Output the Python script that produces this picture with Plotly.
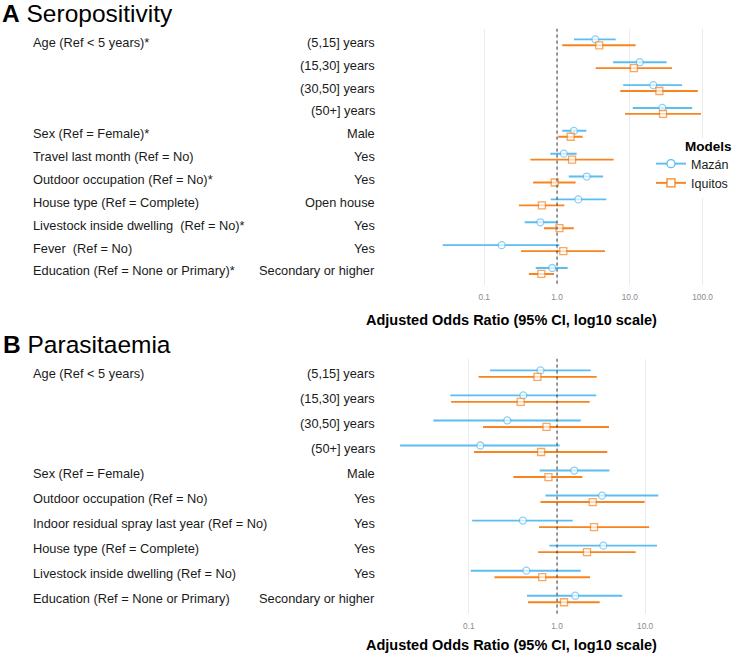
import plotly.graph_objects as go

W, H = 735, 655

# ---------------- DATA ----------------
models = ["Mazán", "Iquitos"]
legend_title = "Models"

sero_left = ["Age (Ref < 5 years)*", "", "", "", "Sex (Ref = Female)*",
             "Travel last month (Ref = No)", "Outdoor occupation (Ref = No)*",
             "House type (Ref = Complete)", "Livestock inside dwelling \u00a0(Ref = No)*",
             "Fever \u00a0(Ref = No)", "Education (Ref = None or Primary)*"]
sero_right = ["(5,15] years", "(15,30] years", "(30,50] years", "(50+] years", "Male",
              "Yes", "Yes", "Open house", "Yes", "Yes", "Secondary or higher"]
sero_mazan_or = [3.36, 13.7, 21.0, 28.0, 1.71, 1.24, 2.56, 1.96, 0.59, 0.174, 0.86]
sero_mazan_lo = [1.71, 5.9, 8.1, 11.0, 1.18, 0.81, 1.45, 0.82, 0.36, 0.027, 0.51]
sero_mazan_hi = [6.4, 32.0, 52.0, 72.0, 2.53, 1.86, 4.3, 4.76, 1.0, 1.08, 1.40]
sero_iq_or = [3.8, 11.4, 25.5, 28.6, 1.54, 1.61, 0.93, 0.62, 1.08, 1.22, 0.61]
sero_iq_lo = [1.18, 3.4, 7.4, 8.6, 1.04, 0.43, 0.47, 0.30, 0.66, 0.32, 0.41]
sero_iq_hi = [12.0, 38.0, 86.0, 95.0, 2.25, 6.0, 1.8, 1.26, 1.7, 4.56, 0.91]

para_left = ["Age (Ref < 5 years)", "", "", "", "Sex (Ref = Female)",
             "Outdoor occupation (Ref = No)", "Indoor residual spray last year (Ref = No)",
             "House type (Ref = Complete)", "Livestock inside dwelling (Ref = No)",
             "Education (Ref = None or Primary)"]
para_right = ["(5,15] years", "(15,30] years", "(30,50] years", "(50+] years", "Male",
              "Yes", "Yes", "Yes", "Yes", "Secondary or higher"]
para_mazan_or = [0.65, 0.415, 0.273, 0.135, 1.57, 3.24, 0.41, 3.35, 0.449, 1.61]
para_mazan_lo = [0.174, 0.0617, 0.0395, 0.0166, 0.637, 0.74, 0.109, 0.82, 0.105, 0.457]
para_mazan_hi = [2.41, 2.79, 1.86, 1.07, 3.92, 14.1, 1.51, 13.6, 1.86, 5.5]
para_iq_or = [0.60, 0.387, 0.76, 0.66, 0.80, 2.54, 2.63, 2.19, 0.68, 1.2]
para_iq_lo = [0.129, 0.063, 0.145, 0.1145, 0.32, 0.65, 0.625, 0.61, 0.195, 0.469]
para_iq_hi = [2.82, 2.35, 3.89, 3.72, 1.94, 9.87, 11.1, 7.81, 2.37, 3.05]

tick_vals = [0.1, 1, 10, 100]
tick_text = ["0.1", "1.0", "10.0", "100.0"]

# ---------------- STYLE ----------------
COL = {"Mazán": "#5BBDF2", "Iquitos": "#F7841F"}
SYM = {"Mazán": "circle", "Iquitos": "square"}
OFF = {"Mazán": -0.13, "Iquitos": 0.13}
FONT = "Liberation Sans, Arial, sans-serif"
LBL = 12.8


def fx(px):
    return px / W


def fy(py):
    return 1 - py / H


fig = go.Figure()


def add_panel(xa, ya, series, nrows):
    for name, (orv, lo, hi) in series.items():
        xs, ys, sz = [], [], []
        for i in range(nrows):
            yy = i + OFF[name]
            xs += [lo[i], orv[i], hi[i], None]
            ys += [yy, yy, yy, None]
            sz += [0, 7, 0, 0]
        fig.add_trace(go.Scatter(
            x=xs, y=ys, mode="lines+markers", name=name,
            xaxis=xa, yaxis=ya, showlegend=False, legendgroup=name,
            line=dict(color=COL[name], width=1.9),
            marker=dict(symbol=SYM[name], size=sz, color="white",
                        line=dict(color=COL[name], width=1.3)),
            connectgaps=False, hoverinfo="skip"))
    # reference line at OR = 1
    fig.add_trace(go.Scatter(x=[1, 1], y=[-0.6, nrows - 0.4], mode="lines",
                             xaxis=xa, yaxis=ya, showlegend=False, hoverinfo="skip",
                             line=dict(color="#333333", width=1, dash="3px,3px")))


add_panel("x", "y", {"Mazán": (sero_mazan_or, sero_mazan_lo, sero_mazan_hi),
                     "Iquitos": (sero_iq_or, sero_iq_lo, sero_iq_hi)}, len(sero_right))
add_panel("x2", "y2", {"Mazán": (para_mazan_or, para_mazan_lo, para_mazan_hi),
                       "Iquitos": (para_iq_or, para_iq_lo, para_iq_hi)}, len(para_right))

# legend entries
for name in models:
    fig.add_trace(go.Scatter(x=[None], y=[None], mode="lines+markers", name=name,
                             xaxis="x", yaxis="y", legendgroup=name, showlegend=True,
                             line=dict(color=COL[name], width=1.9),
                             marker=dict(symbol=SYM[name], size=8, color="white",
                                         line=dict(color=COL[name], width=1.3))))

# pixel geometry
top_y0, top_y1 = 28.6, 284.7
bot_y0, bot_y1 = 358.6, 614.0
top_x0, top_x1 = 430, 725
bot_x0, bot_x1 = 387, 725
one_top, dec_top = 557, 72.8
one_bot, dec_bot = 557, 88.15

axis_common = dict(type="log", tickvals=tick_vals, ticktext=tick_text, showgrid=True,
                   gridcolor="#EBEBEB", gridwidth=1, zeroline=False, showline=False,
                   ticks="outside", ticklen=4, tickcolor="rgba(0,0,0,0)",
                   tickfont=dict(size=8.3, color="#8A8A8A", family=FONT))

fig.update_layout(
    width=W, height=H, margin=dict(l=0, r=0, t=0, b=0),
    paper_bgcolor="white", plot_bgcolor="white",
    font=dict(family=FONT, color="#1A1A1A"),
    xaxis=dict(domain=[fx(top_x0), fx(top_x1)], anchor="y",
               range=[(top_x0 - one_top) / dec_top, (top_x1 - one_top) / dec_top], **axis_common),
    yaxis=dict(domain=[fy(top_y1), fy(top_y0)], anchor="x",
               range=[len(sero_right) - 0.4, -0.6], showgrid=False, zeroline=False,
               showticklabels=False, showline=False),
    xaxis2=dict(domain=[fx(bot_x0), fx(bot_x1)], anchor="y2",
                range=[(bot_x0 - one_bot) / dec_bot, (bot_x1 - one_bot) / dec_bot], **axis_common),
    yaxis2=dict(domain=[fy(bot_y1), fy(bot_y0)], anchor="x2",
                range=[len(para_right) - 0.4, -0.6], showgrid=False, zeroline=False,
                showticklabels=False, showline=False),
    legend=dict(x=fx(651), y=fy(149), xanchor="left", yanchor="top",
                bgcolor="white", font=dict(size=12.5, family=FONT, color="#1A1A1A"),
                itemwidth=30, tracegroupgap=0),
)

ann = []
# legend heading
ann.append(dict(text="<b>" + legend_title + "</b>", x=fx(684), y=fy(147), xref="paper",
                yref="paper", xanchor="left", yanchor="middle", showarrow=False,
                bgcolor="white", borderpad=0,
                font=dict(size=13.5, family=FONT, color="#000")))
# panel titles
ann.append(dict(text="<b>A</b> Seropositivity", x=fx(1), y=fy(14), xref="paper", yref="paper",
                xanchor="left", yanchor="middle", showarrow=False, borderpad=0,
                font=dict(size=24.5, family=FONT, color="#000")))
ann.append(dict(text="<b>B</b> Parasitaemia", x=fx(2), y=fy(344.5), xref="paper", yref="paper",
                xanchor="left", yanchor="middle", showarrow=False, borderpad=0,
                font=dict(size=24.5, family=FONT, color="#000")))
# axis titles
for yy in (320, 645):
    ann.append(dict(text="<b>Adjusted Odds Ratio (95% CI, log10 scale)</b>", x=fx(511), y=fy(yy),
                    xref="paper", yref="paper", xanchor="center", yanchor="middle",
                    showarrow=False, borderpad=0,
                    font=dict(size=14.5, family=FONT, color="#000")))
# row labels
for lefts, rights, yref in ((sero_left, sero_right, "y"), (para_left, para_right, "y2")):
    for i, (lt, rt) in enumerate(zip(lefts, rights)):
        if lt:
            ann.append(dict(text=lt, x=fx(31), y=i, xref="paper", yref=yref, xanchor="left",
                            yanchor="middle", showarrow=False,
                            font=dict(size=LBL, family=FONT, color="#1A1A1A")))
        ann.append(dict(text=rt, x=fx(376.5), y=i, xref="paper", yref=yref, xanchor="right",
                        yanchor="middle", showarrow=False,
                        font=dict(size=LBL, family=FONT, color="#1A1A1A")))
fig.update_layout(annotations=ann)

fig.write_html("out.html", config={"displayModeBar": False},
               post_script="document.body.style.margin='0';document.body.style.overflow='hidden';")
